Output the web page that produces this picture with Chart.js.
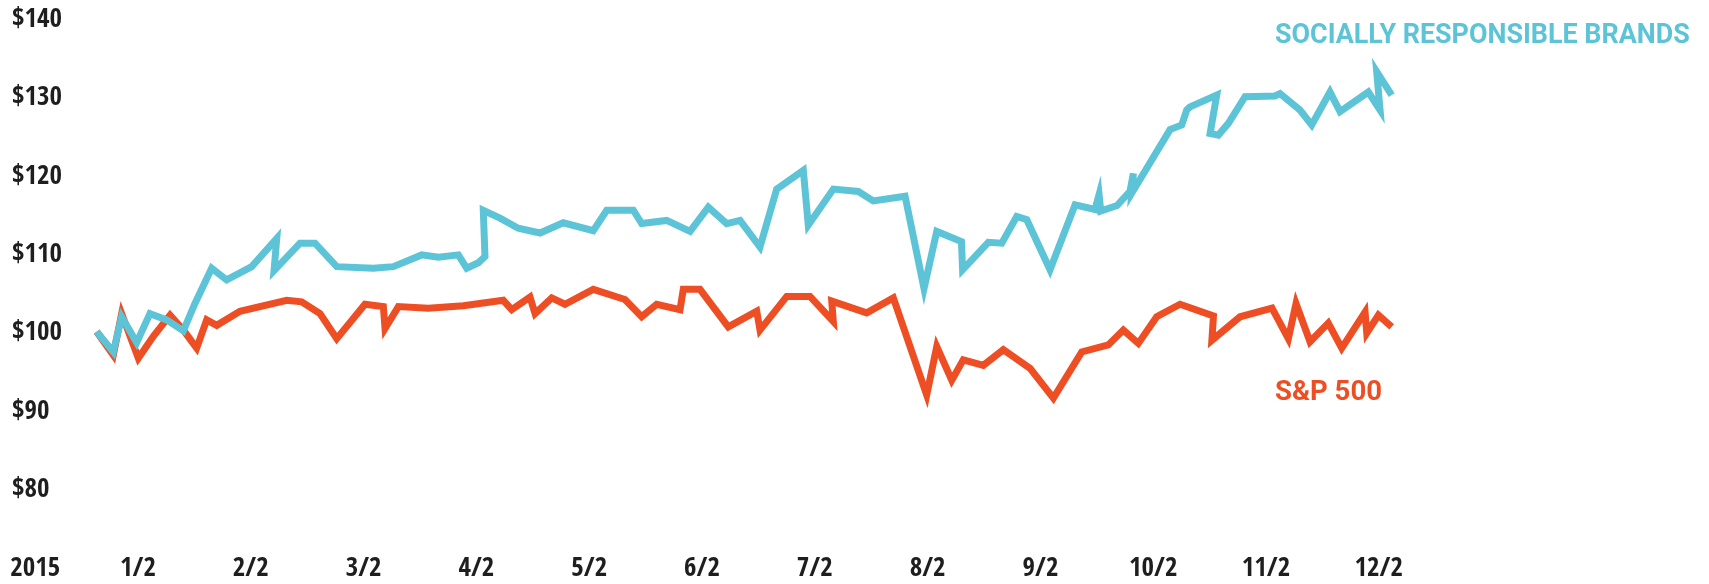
<!DOCTYPE html>
<html><head><meta charset="utf-8">
<script src="https://cdn.jsdelivr.net/npm/chart.js@4.4.0/dist/chart.umd.min.js"></script>
<style>html,body{margin:0;padding:0;background:#fff;overflow:hidden}canvas{display:block}</style>
</head><body>
<canvas id="c" width="1709" height="584"></canvas>
<script>
// x positions are in months (1 = Jan 2, 12 = Dec 2)
const monthTicks  = [0.09, 1, 2, 3, 4, 5, 6, 7, 8, 9, 10, 11, 12];
const monthLabels = ['2015','1/2','2/2','3/2','4/2','5/2','6/2','7/2','8/2','9/2','10/2','11/2','12/2'];
const yTicks = [80, 90, 100, 110, 120, 130, 140];

const brandsX = [0.634,0.781,0.855,0.988,1.106,1.254,1.402,1.505,1.653,1.786,2.008,2.230,2.206,2.436,2.569,2.762,3.086,3.263,3.515,3.662,3.840,3.914,4.017,4.076,4.061,4.209,4.371,4.564,4.770,5.036,5.155,5.391,5.465,5.687,5.894,6.056,6.219,6.337,6.514,6.662,6.898,6.942,7.164,7.386,7.518,7.800,7.968,8.081,8.300,8.310,8.538,8.657,8.790,8.879,9.085,9.307,9.484,9.520,9.535,9.679,9.794,9.824,9.810,10.149,10.253,10.297,10.326,10.563,10.504,10.577,10.666,10.814,11.080,11.124,11.301,11.405,11.567,11.656,11.907,12.011,11.981,12.114];
const brandsY = [100.2,97.6,102.1,98.8,102.5,101.7,100.3,103.8,108.3,106.8,108.5,112.1,108.0,111.5,111.5,108.5,108.3,108.5,110.0,109.7,110.0,108.3,109.0,109.8,115.7,114.7,113.4,112.8,114.1,113.1,115.7,115.7,114.0,114.4,113.0,116.1,114.0,114.4,111.0,118.4,120.8,113.8,118.4,118.1,116.9,117.5,105.7,113.0,111.7,108.1,111.6,111.5,114.9,114.5,108.1,116.4,115.8,117.7,115.6,116.3,118.1,120.4,117.9,126.0,126.6,128.5,128.9,130.4,125.5,125.3,126.8,130.2,130.3,130.6,128.5,126.6,130.8,128.3,130.8,128.5,133.4,130.4];

const spX = [0.634,0.781,0.855,1.003,1.136,1.284,1.402,1.520,1.609,1.698,1.904,2.318,2.451,2.613,2.762,3.012,3.175,3.190,3.308,3.574,3.884,4.238,4.313,4.475,4.520,4.668,4.785,5.036,5.317,5.465,5.598,5.805,5.834,5.982,6.233,6.485,6.514,6.751,6.957,7.164,7.150,7.460,7.696,7.992,8.081,8.214,8.316,8.494,8.671,8.908,9.115,9.366,9.602,9.735,9.868,10.031,10.238,10.534,10.520,10.770,11.053,11.198,11.266,11.390,11.552,11.671,11.878,11.893,11.996,12.114];
const spY = [100.2,97.2,102.5,96.8,99.6,102.3,100.4,98.1,101.7,101.0,102.8,104.2,104.0,102.5,99.3,103.7,103.4,100.6,103.4,103.2,103.5,104.2,103.0,104.6,102.5,104.5,103.7,105.6,104.3,102.1,103.7,103.0,105.6,105.6,100.8,102.8,100.4,104.7,104.7,101.5,104.1,102.6,104.5,92.1,98.3,94.0,96.6,95.9,97.9,95.5,91.7,97.6,98.5,100.4,98.7,102.1,103.7,102.2,99.1,102.1,103.2,99.3,103.8,98.9,101.3,98.1,102.7,100.0,102.3,100.8];

const BLUE = 'rgb(92,196,214)';
const ORANGE = 'rgb(238,78,36)';
const TICK_FONT = {family: '"Open Sans Condensed", "Roboto Condensed", "DejaVu Sans Condensed", sans-serif', size: 27, weight: 'bold'};

const toPts = (xs, ys) => xs.map((x, i) => ({x: x, y: ys[i]}));

const seriesLabels = {
  id: 'seriesLabels',
  afterDraw(chart) {
    const ctx = chart.ctx;
    const items = [
      {text: 'SOCIALLY RESPONSIBLE BRANDS', color: BLUE, x: 1275, y: 36, w: 415},
      {text: 'S&P 500', color: ORANGE, x: 1275, y: 393, w: 107}
    ];
    ctx.save();
    ctx.textAlign = 'left';
    ctx.textBaseline = 'middle';
    items.forEach(it => {
      ctx.font = '700 27px Roboto, "Liberation Sans", sans-serif';
      const m = ctx.measureText(it.text).width;
      const size = 27 * it.w / m;
      ctx.font = '700 ' + size.toFixed(2) + 'px Roboto, "Liberation Sans", sans-serif';
      ctx.fillStyle = it.color;
      ctx.fillText(it.text, it.x, it.y);
    });
    ctx.restore();
  }
};

new Chart(document.getElementById('c'), {
  type: 'line',
  data: {
    datasets: [
      {label: 'SOCIALLY RESPONSIBLE BRANDS', data: toPts(brandsX, brandsY), borderColor: BLUE, borderWidth: 7, pointRadius: 0, tension: 0, fill: false, borderJoinStyle: 'miter', borderCapStyle: 'butt'},
      {label: 'S&P 500', data: toPts(spX, spY), borderColor: ORANGE, borderWidth: 7, pointRadius: 0, tension: 0, fill: false, borderJoinStyle: 'miter', borderCapStyle: 'butt'}
    ]
  },
  options: {
    responsive: false,
    animation: false,
    devicePixelRatio: 1,
    layout: {padding: 0},
    plugins: {legend: {display: false}, tooltip: {enabled: false}},
    scales: {
      x: {
        type: 'linear', min: -0.2234, max: 14.927,
        grid: {display: false, drawTicks: false},
        border: {display: false},
        afterBuildTicks: s => { s.ticks = monthTicks.map(v => ({value: v})); },
        afterFit: s => { s.height = 44; s.paddingLeft = 0; s.paddingRight = 0; },
        ticks: {autoSkip: false, maxRotation: 0, padding: 13, color: '#1e1e1e', font: TICK_FONT,
          callback: (v, i) => monthLabels[i]}
      },
      y: {
        type: 'linear', min: 73.588, max: 142.554,
        grid: {display: false, drawTicks: false},
        border: {display: false},
        afterBuildTicks: s => { s.ticks = yTicks.map(v => ({value: v})); },
        afterFit: s => { s.width = 0; s.paddingTop = 0; s.paddingBottom = 0; },
        ticks: {mirror: true, padding: 12, color: '#1e1e1e', font: TICK_FONT,
          callback: v => '$' + v}
      }
    }
  },
  plugins: [seriesLabels]
});
</script>
</body></html>
